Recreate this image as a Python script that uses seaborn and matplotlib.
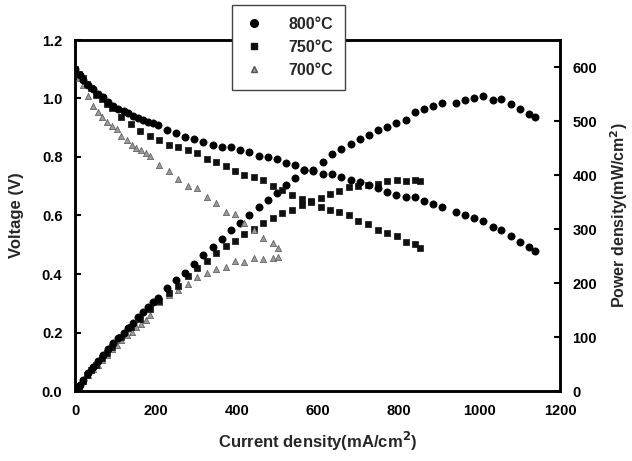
import matplotlib
matplotlib.use("Agg")
import matplotlib.pyplot as plt
import seaborn as sns
import pandas as pd
from matplotlib.lines import Line2D

# ---------------- data ----------------
i_800 = [0, 12, 21, 33, 45, 58, 70, 82, 95, 107, 120, 132, 144, 157, 169, 181, 194, 206, 227, 249,
         272, 295, 317, 341, 363, 386, 408, 431, 455, 477, 499, 522, 544, 567, 590, 613, 637, 658, 682, 705,
         727, 750, 772, 795, 818, 841, 864, 886, 909, 942, 965, 988, 1010, 1033, 1055, 1079, 1101, 1124, 1137]
v_800 = [1.10, 1.08, 1.063, 1.046, 1.031, 1.015, 1.004, 0.989, 0.975, 0.964, 0.958, 0.949, 0.940, 0.934,
         0.926, 0.921, 0.915, 0.909, 0.892, 0.881, 0.870, 0.862, 0.850, 0.841, 0.833, 0.833, 0.824, 0.816,
         0.803, 0.801, 0.792, 0.781, 0.773, 0.756, 0.753, 0.741, 0.741, 0.732, 0.721, 0.714, 0.703, 0.694,
         0.680, 0.670, 0.662, 0.662, 0.651, 0.640, 0.630, 0.612, 0.602, 0.592, 0.581, 0.562, 0.551, 0.531,
         0.511, 0.492, 0.480]
p_800 = [0, 12, 21, 33, 44, 55, 66, 77, 88, 98, 108, 117, 126, 137, 146, 155, 164, 173, 190, 206,
         219, 236, 252, 267, 281, 298, 312, 326, 340, 354, 367, 381, 395, 409, 410, 424, 439, 448, 458, 466,
         475, 483, 489, 496, 502, 517, 522, 528, 533, 534, 538, 542, 546, 538, 540, 532, 522, 513, 507]

i_750 = [0, 10, 20, 30, 40, 52, 66, 78, 91, 115, 139, 162, 186, 209, 233, 256, 279, 301, 326, 349,
         373, 396, 419, 443, 466, 489, 513, 536, 561, 584, 608, 631, 654, 678, 701, 726, 749, 773, 796, 818,
         841, 854]
v_750 = [1.10, 1.085, 1.07, 1.05, 1.035, 1.012, 0.997, 0.982, 0.966, 0.936, 0.913, 0.890, 0.872, 0.858,
         0.841, 0.833, 0.824, 0.813, 0.793, 0.782, 0.769, 0.752, 0.738, 0.731, 0.721, 0.702, 0.688, 0.670,
         0.656, 0.645, 0.630, 0.619, 0.611, 0.601, 0.581, 0.571, 0.550, 0.541, 0.531, 0.511, 0.502, 0.488]
p_750 = [0, 9, 19, 29, 38, 49, 61, 71, 82, 100, 118, 134, 151, 167, 182, 195, 213, 227, 241, 255,
         269, 277, 290, 300, 312, 320, 329, 335, 344, 352, 357, 364, 371, 378, 380, 381, 383, 388, 390, 388,
         390, 389]

i_700 = [0, 10, 20, 33, 45, 56, 66, 78, 91, 103, 115, 128, 140, 152, 163, 175, 186, 209, 233, 256,
         279, 301, 326, 349, 373, 396, 419, 443, 466, 489, 503]
v_700 = [1.10, 1.07, 1.045, 1.01, 0.975, 0.955, 0.936, 0.92, 0.906, 0.895, 0.873, 0.857, 0.841, 0.832,
         0.824, 0.812, 0.803, 0.773, 0.753, 0.724, 0.702, 0.693, 0.664, 0.642, 0.613, 0.605, 0.575, 0.55,
         0.522, 0.505, 0.490]
p_700 = [0, 9, 19, 30, 40, 49, 57, 67, 77, 86, 94, 103, 110, 118, 125, 132, 140, 165, 177, 187,
         198, 211, 218, 226, 230, 241, 238, 246, 244, 247, 249]

series_labels = ["800°C", "750°C", "700°C"]
x_ticks = [0, 200, 400, 600, 800, 1000, 1200]
v_ticks = [0.0, 0.2, 0.4, 0.6, 0.8, 1.0, 1.2]
p_ticks = [0, 100, 200, 300, 400, 500, 600]

# ---------------- build table ----------------
frames = []
for lab, i, v, p in zip(series_labels, [i_800, i_750, i_700], [v_800, v_750, v_700], [p_800, p_750, p_700]):
    frames.append(pd.DataFrame({"I": i, "V": v, "P": p, "T": lab}))
df = pd.concat(frames, ignore_index=True)

sns.set_style("white")
plt.rcParams["font.family"] = ["Liberation Sans", "DejaVu Sans"]
plt.rcParams["font.weight"] = "bold"

fig = plt.figure(figsize=(6.32, 4.61), dpi=100)
ax = fig.add_axes([75 / 632, 1 - 391 / 461, 485 / 632, 351 / 461])
ax2 = ax.twinx()

styles = {
    "800°C": dict(marker="o", s=27, color="black", edgecolor="black"),
    "750°C": dict(marker="s", s=17, color="#111111", edgecolor="#111111"),
    "700°C": dict(marker="^", s=20, color="#9a9a9a", edgecolor="#555555"),
}
order = ["700°C", "750°C", "800°C"]
for lab in order:
    sub = df[df["T"] == lab]
    st = styles[lab]
    sns.scatterplot(data=sub, x="I", y="V", ax=ax, marker=st["marker"], s=st["s"],
                    color=st["color"], edgecolor=st["edgecolor"], linewidth=0.5, legend=False, zorder=3)
    sns.scatterplot(data=sub, x="I", y="P", ax=ax2, marker=st["marker"], s=st["s"],
                    color=st["color"], edgecolor=st["edgecolor"], linewidth=0.5, legend=False, zorder=3)

ax.set_xlim(0, 1200)
ax.set_ylim(0, 1.2)
ax2.set_ylim(0, 650)
ax.set_xticks(x_ticks)
ax.set_yticks(v_ticks)
ax2.set_yticks(p_ticks)
ax.set_xticklabels([str(t) for t in x_ticks], fontsize=10.5, fontweight="bold")
ax.set_yticklabels([f"{t:.1f}" for t in v_ticks], fontsize=10.5, fontweight="bold")
ax2.set_yticklabels([str(t) for t in p_ticks], fontsize=10.5, fontweight="bold")

ax.set_xlabel("Current density(mA/cm$^\\mathbf{2}$)", fontsize=12, fontweight="bold", labelpad=9)
ax.set_ylabel("Voltage (V)", fontsize=12, fontweight="bold", labelpad=13)
ax2.set_ylabel("Power density(mW/cm$^\\mathbf{2}$)", fontsize=11.5, fontweight="bold", labelpad=8)

for a in (ax, ax2):
    for sp in a.spines.values():
        sp.set_linewidth(1.8)
        sp.set_color("black")
ax.tick_params(axis="x", direction="in", length=4, width=1.5, pad=9, colors="black")
ax.tick_params(axis="y", direction="in", length=4, width=1.5, pad=9, colors="black")
ax2.tick_params(axis="y", direction="in", length=4, width=1.5, pad=9, colors="black")
ax.tick_params(top=False)
ax.set_zorder(ax2.get_zorder() + 1)
ax.patch.set_visible(False)

handles = [
    Line2D([], [], linestyle="none", marker="o", markersize=5.5, color="black"),
    Line2D([], [], linestyle="none", marker="s", markersize=4.5, color="#111111"),
    Line2D([], [], linestyle="none", marker="^", markersize=5, color="#9a9a9a", markeredgecolor="#555555"),
]
leg = fig.legend(handles, series_labels, loc="upper left", bbox_to_anchor=(232 / 632, 1 - 5 / 461),
                 frameon=True, fancybox=False, framealpha=1, edgecolor="#444444",
                 prop={"weight": "bold", "size": 11.5}, handletextpad=1.6, labelspacing=0.5,
                 borderpad=0.75, handlelength=1.2, borderaxespad=0)
leg.get_frame().set_linewidth(1.0)
leg.set_zorder(10)

fig.savefig("out.png", dpi=100)
